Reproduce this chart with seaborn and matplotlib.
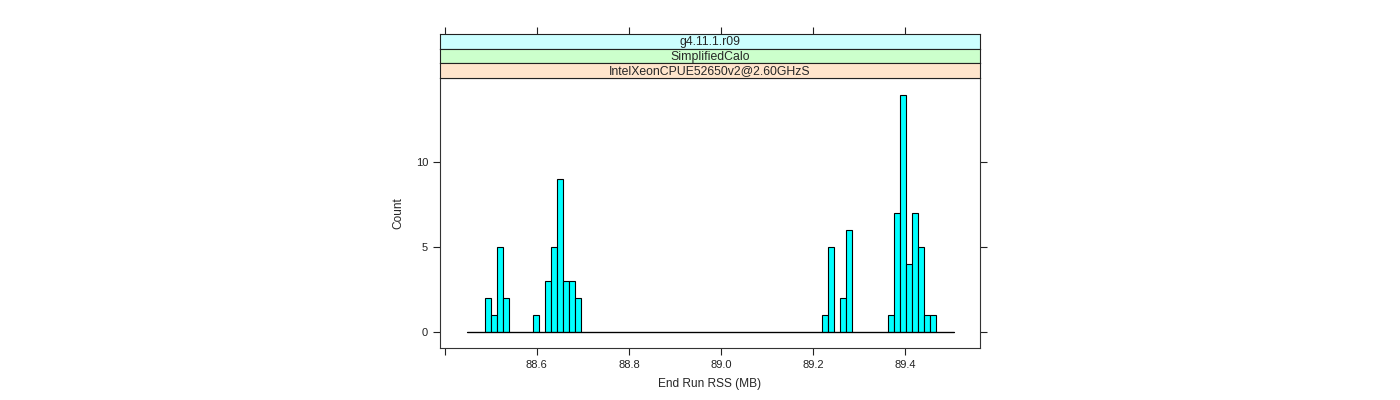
import numpy as np
import pandas as pd
import matplotlib
matplotlib.use('Agg')
import matplotlib.pyplot as plt
import seaborn as sns

# histogram breaks (MB)
bin_start = 88.4488
bin_width = 0.013043

# counts per bin, left to right (81 bins)
counts = [0, 0, 0, 2, 1, 5, 2, 0, 0, 0,
          0, 1, 0, 3, 5, 9, 3, 3, 2, 0,
          0, 0, 0, 0, 0, 0, 0, 0, 0, 0,
          0, 0, 0, 0, 0, 0, 0, 0, 0, 0,
          0, 0, 0, 0, 0, 0, 0, 0, 0, 0,
          0, 0, 0, 0, 0, 0, 0, 0, 0, 1,
          5, 0, 2, 6, 0, 0, 0, 0, 0, 0,
          1, 7, 14, 4, 7, 5, 1, 1, 0, 0,
          0]

strip_labels = ["g4.11.1.r09", "SimplifiedCalo", "IntelXeonCPUE52650v2@2.60GHzS"]
strip_colors = ["#CCFFFF", "#CCFFCC", "#FFE5CC"]

x_ticks = [88.4, 88.6, 88.8, 89.0, 89.2, 89.4]
x_ticklabels = ["", "88.6", "88.8", "89.0", "89.2", "89.4"]
y_ticks = [0, 5, 10]

sns.set_style('ticks')
plt.rcParams['font.family'] = ['Liberation Sans', 'DejaVu Sans']

edges = bin_start + bin_width * np.arange(len(counts) + 1)
df = pd.DataFrame({'rss': (edges[:-1] + edges[1:]) / 2, 'n': counts})

fig = plt.figure(figsize=(14, 4), dpi=100)
W, H = 1400, 400
left, right, top, bottom = 440, 980, 78, 347.7
ax = fig.add_axes([left / W, 1 - bottom / H, (right - left) / W, (bottom - top) / H])

sns.histplot(data=df, x='rss', weights='n', bins=edges.tolist(), color='#00FFFF',
             edgecolor='black', linewidth=0.8, alpha=1, ax=ax)
# solid zero line under the empty bins
ax.plot([edges[0], edges[-1]], [0, 0], color='black', lw=0.9, zorder=1)

ax.set_xlim(88.39, 89.562)
ax.set_ylim(-0.95, 14.98)
ax.set_xticks(x_ticks)
ax.set_xticklabels(x_ticklabels)
ax.set_yticks(y_ticks)
ax.tick_params(direction='out', length=5, width=0.8, labelsize=8,
               left=True, right=True, bottom=True, top=False, colors='#222222')
ax.set_xlabel('End Run RSS (MB)', fontsize=8.6, labelpad=6)
ax.set_ylabel('Count', fontsize=8.6, labelpad=8)
for s in ax.spines.values():
    s.set_visible(True)
    s.set_color('#333333')
    s.set_linewidth(0.8)

# strips above the panel, outermost on top
sh = 44.0 / 3
for i, (lab, col) in enumerate(zip(strip_labels, strip_colors)):
    y0 = top - (3 - i) * sh
    sax = fig.add_axes([left / W, 1 - (y0 + sh) / H, (right - left) / W, sh / H], sharex=ax)
    sax.set_facecolor(col)
    sax.set_yticks([])
    sax.tick_params(labelbottom=False, bottom=False, top=(i == 0), labeltop=False,
                    direction='out', length=5, width=0.8, colors='#222222')
    for s in sax.spines.values():
        s.set_visible(True)
        s.set_color('#222222')
        s.set_linewidth(0.8)
    sax.text(0.5, 0.45, lab, transform=sax.transAxes, ha='center', va='center', fontsize=8.8)

fig.savefig('out.png', dpi=100)
